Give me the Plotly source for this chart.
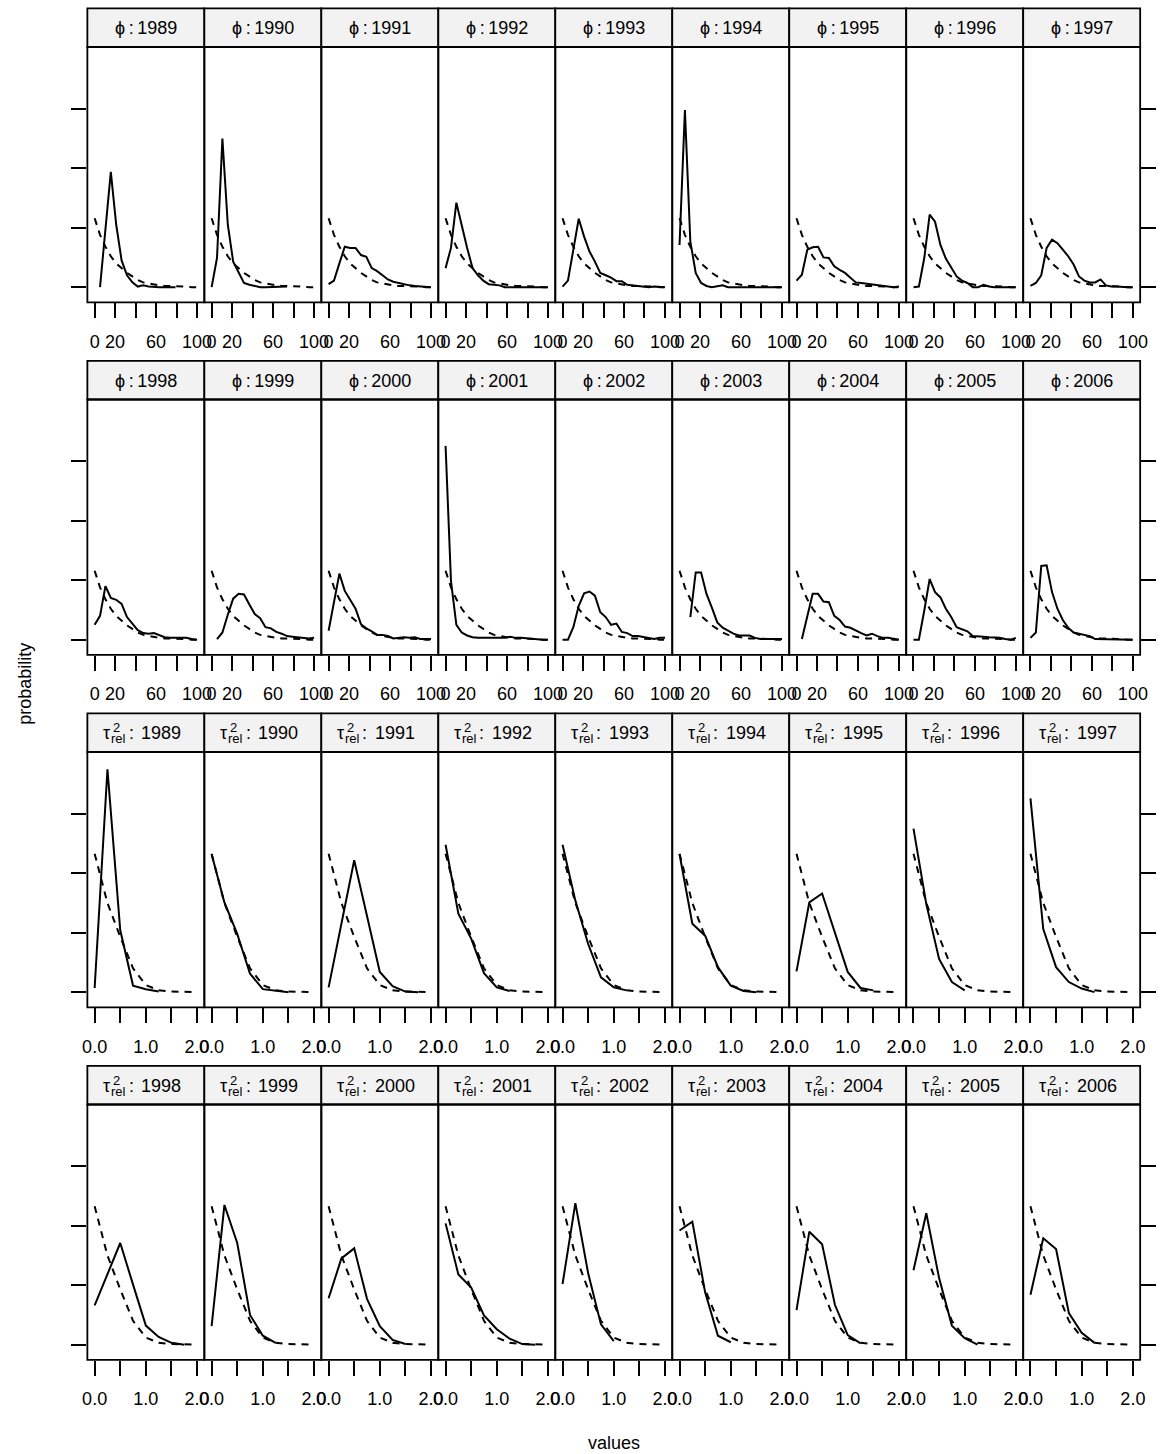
import plotly.graph_objects as go

# ---------------------------------------------------------------- data
PHI_X = [0.0, 5.26, 10.53, 15.79, 21.05, 26.32, 31.58, 36.84, 42.11, 47.37,
         52.63, 57.89, 63.16, 68.42, 73.68, 78.95, 84.21, 89.47, 94.74, 100.0]
TAU_X = [0.0, 0.25, 0.5, 0.75, 1.0, 1.25, 1.5, 1.75, 2.0]

YEARS = list(range(1989, 2007))

# prior probabilities (dashed)
PHI_PRIOR = [0.116, 0.088, 0.068, 0.052, 0.040, 0.032, 0.024, 0.018, 0.012, 0.008,
             0.006, 0.004, 0.003, 0.002, 0.002, 0.001, 0.001, 0.001, 0.0, 0.0]
TAU_PRIOR = [0.233, 0.150, 0.093, 0.040, 0.012, 0.003, 0.001, 0.0, 0.0]

# posterior probabilities of phi (solid)
PHI_1989 = [None, 0.0, 0.097, 0.194, 0.105, 0.045, 0.020, 0.008, 0.001, 0.003,
            0.001, 0.0, 0.0, 0.0, 0.0, 0.0, None, None, None, None]
PHI_1990 = [0.0, 0.049, 0.250, 0.105, 0.043, 0.025, 0.007, 0.004, 0.002, 0.0,
            0.0, 0.0, 0.0, 0.0, 0.001, None, None, None, None, None]
PHI_1991 = [0.005, 0.011, 0.040, 0.068, 0.066, 0.066, 0.054, 0.051, 0.032, 0.027,
            0.020, 0.013, 0.009, 0.007, 0.004, 0.003, 0.002, 0.001, 0.0, 0.0]
PHI_1992 = [0.032, 0.066, 0.142, 0.103, 0.066, 0.032, 0.020, 0.011, 0.005, 0.004,
            0.003, 0.0, 0.0, 0.001, 0.0, 0.0, 0.0, 0.0, 0.0, 0.0]
PHI_1993 = [0.001, 0.011, 0.063, 0.115, 0.085, 0.060, 0.043, 0.024, 0.020, 0.016,
            0.010, 0.010, 0.004, 0.003, 0.002, 0.001, 0.0, 0.001, 0.0, 0.0]
PHI_1994 = [0.071, 0.298, 0.077, 0.024, 0.007, 0.002, 0.0, 0.001, 0.003, 0.0,
            0.0, 0.0, 0.0, 0.0, 0.0, 0.0, 0.0, 0.0, 0.0, 0.0]
PHI_1995 = [0.011, 0.021, 0.063, 0.067, 0.068, 0.050, 0.049, 0.035, 0.029, 0.024,
            0.016, 0.008, 0.007, 0.006, 0.005, 0.004, 0.003, 0.001, 0.0, 0.001]
PHI_1996 = [0.0, 0.001, 0.049, 0.122, 0.110, 0.071, 0.048, 0.032, 0.018, 0.011,
            0.007, 0.0, 0.0, 0.004, 0.001, 0.0, 0.0, 0.0, 0.0, 0.0]
PHI_1997 = [0.002, 0.007, 0.020, 0.066, 0.080, 0.074, 0.063, 0.052, 0.038, 0.018,
            0.011, 0.008, 0.008, 0.013, 0.003, 0.001, 0.001, 0.0, 0.0, 0.0]
PHI_1998 = [0.025, 0.040, 0.090, 0.070, 0.067, 0.060, 0.038, 0.027, 0.016, 0.011,
            0.010, 0.011, 0.007, 0.004, 0.003, 0.003, 0.003, 0.003, 0.001, 0.0]
PHI_1999 = [None, 0.001, 0.012, 0.042, 0.069, 0.077, 0.076, 0.059, 0.043, 0.036,
            0.021, 0.019, 0.013, 0.010, 0.006, 0.005, 0.004, 0.003, 0.002, 0.003]
PHI_2000 = [0.015, 0.060, 0.111, 0.082, 0.068, 0.052, 0.026, 0.019, 0.014, 0.008,
            0.008, 0.006, 0.002, 0.003, 0.004, 0.003, 0.004, 0.001, 0.001, 0.001]
PHI_2001 = [0.326, 0.099, 0.025, 0.012, 0.007, 0.004, 0.003, 0.003, 0.002, 0.003,
            0.003, 0.003, 0.005, 0.003, 0.003, 0.002, 0.001, 0.001, 0.0, 0.0]
PHI_2002 = [0.0, 0.0, 0.021, 0.057, 0.078, 0.081, 0.074, 0.046, 0.038, 0.025,
            0.027, 0.013, 0.011, 0.006, 0.006, 0.004, 0.003, 0.001, 0.003, 0.003]
PHI_2003 = [None, None, 0.038, 0.113, 0.113, 0.077, 0.054, 0.029, 0.020, 0.015,
            0.010, 0.007, 0.007, 0.007, 0.003, 0.001, 0.001, 0.001, 0.001, 0.001]
PHI_2004 = [None, 0.001, 0.039, 0.077, 0.077, 0.064, 0.063, 0.040, 0.033, 0.022,
            0.020, 0.015, 0.011, 0.007, 0.010, 0.006, 0.003, 0.003, 0.001, 0.0]
PHI_2005 = [0.0, 0.0, 0.049, 0.102, 0.080, 0.071, 0.052, 0.038, 0.021, 0.018,
            0.014, 0.006, 0.006, 0.005, 0.004, 0.004, 0.003, 0.001, 0.0, 0.003]
PHI_2006 = [0.003, 0.012, 0.124, 0.125, 0.080, 0.052, 0.033, 0.020, 0.012, 0.010,
            0.007, 0.006, 0.001, 0.001, 0.001, 0.0, 0.0, 0.0, 0.0, 0.0]

# posterior probabilities of tau^2_rel (solid)
TAU_1989 = [0.007, 0.375, 0.104, 0.011, 0.005, 0.001, None, None, None]
TAU_1990 = [0.232, 0.151, 0.098, 0.031, 0.005, 0.003, 0.0, None, None]
TAU_1991 = [0.008, 0.115, 0.222, 0.128, 0.034, 0.010, 0.001, 0.0, None]
TAU_1992 = [0.248, 0.132, 0.090, 0.032, 0.008, 0.002, None, None, None]
TAU_1993 = [0.248, 0.154, 0.081, 0.025, 0.008, 0.003, None, None, None]
TAU_1994 = [0.232, 0.115, 0.095, 0.042, 0.011, 0.002, 0.0, None, None]
TAU_1995 = [0.035, 0.151, 0.166, 0.100, 0.034, 0.007, 0.003, None, None]
TAU_1996 = [0.275, 0.148, 0.056, 0.017, 0.003, None, None, None, None]
TAU_1997 = [0.326, 0.106, 0.042, 0.017, 0.006, 0.0, None, None, None]
TAU_1998 = [0.066, 0.118, 0.171, 0.101, 0.032, 0.013, 0.003, 0.0, None]
TAU_1999 = [0.031, 0.235, 0.171, 0.050, 0.015, 0.003, None, None, None]
TAU_2000 = [0.078, 0.145, 0.162, 0.077, 0.031, 0.008, 0.001, None, None]
TAU_2001 = [0.204, 0.118, 0.096, 0.049, 0.026, 0.010, 0.001, 0.0, None]
TAU_2002 = [0.102, 0.238, 0.120, 0.034, 0.006, None, None, None, None]
TAU_2003 = [0.192, 0.207, 0.088, 0.015, 0.004, None, None, None, None]
TAU_2004 = [0.058, 0.190, 0.169, 0.067, 0.016, 0.002, None, None, None]
TAU_2005 = [0.125, 0.221, 0.112, 0.032, 0.011, 0.0, None, None, None]
TAU_2006 = [0.084, 0.179, 0.161, 0.053, 0.020, 0.003, None, None, None]

PHI_POST = [PHI_1989, PHI_1990, PHI_1991, PHI_1992, PHI_1993, PHI_1994,
            PHI_1995, PHI_1996, PHI_1997, PHI_1998, PHI_1999, PHI_2000,
            PHI_2001, PHI_2002, PHI_2003, PHI_2004, PHI_2005, PHI_2006]
TAU_POST = [TAU_1989, TAU_1990, TAU_1991, TAU_1992, TAU_1993, TAU_1994,
            TAU_1995, TAU_1996, TAU_1997, TAU_1998, TAU_1999, TAU_2000,
            TAU_2001, TAU_2002, TAU_2003, TAU_2004, TAU_2005, TAU_2006]

PHI_TICKS = [0, 20, 40, 60, 80, 100]
PHI_TICKTEXT = ["0", "20", "", "60", "", "100"]
TAU_TICKS = [0, 0.5, 1.0, 1.5, 2.0]
TAU_TICKTEXT = ["0.0", "", "1.0", "", "2.0"]
Y_TICKS = [0, 0.1, 0.2, 0.3]

# ---------------------------------------------------------------- geometry (pixels)
W, H = 1163, 1454
NCOL, NROW = 9, 4
LEFT0, PW = 83.3, 118.3
STRIP_TOP0, ROW_PITCH, STRIP_H, PANEL_H = 8.3, 352.5, 38.7, 255.3
Y_RANGE = [-0.0255, 0.404]
PHI_RANGE = [-7.1, 107.1]
TAU_RANGE = [-0.142, 2.142]

FONT = "Liberation Sans, Arial, Helvetica, sans-serif"
FS = 18
LINE_W = 1.8
DATA_W = 2.0


def px(x):
    return x / W


def py(y):
    return 1 - y / H


fig = go.Figure()
layout = dict(
    width=W, height=H, autosize=False,
    margin=dict(l=0, r=0, t=0, b=0),
    paper_bgcolor="white", plot_bgcolor="white",
    showlegend=False,
    font=dict(family=FONT, size=FS, color="black"),
)
shapes = []
annotations = []

for p in range(NROW * NCOL):
    r, c = divmod(p, NCOL)
    is_phi = r < 2
    year_idx = (r % 2) * NCOL + c
    year = YEARS[year_idx]
    n = p + 1
    xa = "x" if n == 1 else f"x{n}"
    ya = "y" if n == 1 else f"y{n}"
    xkey = "xaxis" if n == 1 else f"xaxis{n}"
    ykey = "yaxis" if n == 1 else f"yaxis{n}"

    x0 = LEFT0 + c * PW
    x1 = x0 + PW
    s_top = STRIP_TOP0 + r * ROW_PITCH
    s_bot = s_top + STRIP_H
    p_bot = s_bot + PANEL_H

    xs = PHI_X if is_phi else TAU_X
    post = PHI_POST[year_idx] if is_phi else TAU_POST[year_idx]
    prior = PHI_PRIOR if is_phi else TAU_PRIOR

    fig.add_trace(go.Scatter(x=xs, y=post, mode="lines", xaxis=xa, yaxis=ya,
                             line=dict(color="black", width=DATA_W),
                             connectgaps=False, hoverinfo="skip"))
    fig.add_trace(go.Scatter(x=xs, y=prior, mode="lines", xaxis=xa, yaxis=ya,
                             line=dict(color="black", width=DATA_W, dash="7px,6px"),
                             hoverinfo="skip"))

    layout[xkey] = dict(
        domain=[px(x0), px(x1)], anchor=ya,
        range=PHI_RANGE if is_phi else TAU_RANGE,
        tickmode="array",
        tickvals=PHI_TICKS if is_phi else TAU_TICKS,
        ticktext=PHI_TICKTEXT if is_phi else TAU_TICKTEXT,
        ticks="outside", ticklen=15, tickwidth=LINE_W, tickcolor="black",
        ticklabelstandoff=8,
        tickfont=dict(family=FONT, size=FS, color="black"),
        showgrid=False, zeroline=False, showline=False, fixedrange=True,
    )
    yax = dict(
        domain=[py(p_bot), py(s_bot)], anchor=xa,
        range=Y_RANGE, tickmode="array", tickvals=Y_TICKS,
        showticklabels=False, showgrid=False, zeroline=False,
        showline=False, fixedrange=True,
    )
    if c == 0:
        yax.update(ticks="outside", ticklen=15, tickwidth=LINE_W,
                   tickcolor="black", side="left")
    elif c == NCOL - 1:
        yax.update(ticks="outside", ticklen=15, tickwidth=LINE_W,
                   tickcolor="black", side="right")
    else:
        yax.update(ticks="")
    layout[ykey] = yax

    # strip and panel frame
    shapes.append(dict(type="rect", xref="paper", yref="paper",
                       x0=px(x0), x1=px(x1), y0=py(s_bot), y1=py(s_top),
                       fillcolor="#f2f2f2", line=dict(color="black", width=LINE_W),
                       layer="above"))
    shapes.append(dict(type="rect", xref="paper", yref="paper",
                       x0=px(x0), x1=px(x1), y0=py(p_bot), y1=py(s_bot),
                       fillcolor="rgba(0,0,0,0)",
                       line=dict(color="black", width=LINE_W), layer="above"))

    cx = (x0 + x1) / 2
    cy = (s_top + s_bot) / 2 + 0.5
    txt_font = dict(family=FONT, size=FS, color="black")
    small_font = dict(family=FONT, size=13, color="black")
    base = dict(xref="paper", yref="paper", showarrow=False, yanchor="middle")
    if is_phi:
        annotations.append(dict(base, x=px(cx), y=py(cy), xanchor="center",
                                text=f"\u03d5\u2009:\u2009{year}", font=txt_font))
    else:
        # tau with stacked superscript 2 and subscript rel
        annotations.append(dict(base, x=px(cx - 34), y=py(cy), xanchor="right",
                                text="\u03c4", font=txt_font))
        annotations.append(dict(base, x=px(cx - 35), y=py(cy - 5.5), xanchor="left",
                                text="2", font=small_font))
        annotations.append(dict(base, x=px(cx - 37), y=py(cy + 5.5), xanchor="left",
                                text="rel", font=small_font))
        annotations.append(dict(base, x=px(cx - 15), y=py(cy), xanchor="center",
                                text=":", font=txt_font))
        annotations.append(dict(base, x=px(cx - 7), y=py(cy), xanchor="left",
                                text=str(year), font=txt_font))

# axis titles
annotations.append(dict(x=px(20), y=py(684), xref="paper", yref="paper",
                        text="probability", textangle=-90, showarrow=False,
                        xanchor="center", yanchor="middle",
                        font=dict(family=FONT, size=FS, color="black")))
annotations.append(dict(x=px(615.5), y=py(1443), xref="paper", yref="paper",
                        text="values", showarrow=False,
                        xanchor="center", yanchor="middle",
                        font=dict(family=FONT, size=FS, color="black")))

layout["shapes"] = shapes
layout["annotations"] = annotations
fig.update_layout(**layout)
fig.write_html("out.html")
